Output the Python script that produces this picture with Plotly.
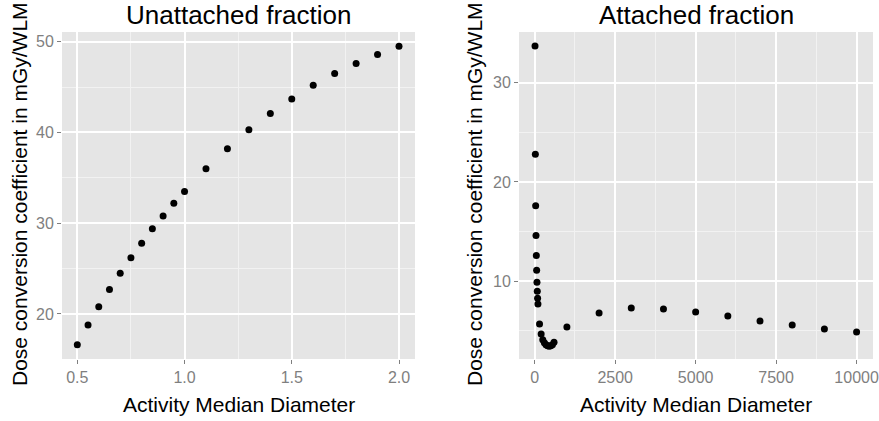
import plotly.graph_objects as go
from plotly.subplots import make_subplots

# ---- data ----
unatt_amd = [0.5, 0.55, 0.6, 0.65, 0.7, 0.75, 0.8, 0.85, 0.9, 0.95, 1.0,
             1.1, 1.2, 1.3, 1.4, 1.5, 1.6, 1.7, 1.8, 1.9, 2.0]
unatt_dcc = [16.6, 18.8, 20.8, 22.7, 24.5, 26.2, 27.8, 29.4, 30.8, 32.2, 33.5,
             36.0, 38.2, 40.3, 42.1, 43.7, 45.2, 46.5, 47.6, 48.6, 49.5]

att_amd = [10, 20, 30, 40, 50, 60, 70, 80, 90, 100,
           150, 200, 250, 300, 350, 400, 450, 500, 550, 600,
           1000, 2000, 3000, 4000, 5000, 6000, 7000, 8000, 9000, 10000]
att_dcc = [33.7, 22.8, 17.6, 14.6, 12.6, 11.1, 9.9, 9.0, 8.3, 7.7,
           5.7, 4.7, 4.1, 3.8, 3.6, 3.5, 3.45, 3.5, 3.6, 3.85,
           5.4, 6.8, 7.3, 7.2, 6.9, 6.5, 6.0, 5.6, 5.2, 4.9]

titles = ["Unattached fraction", "Attached fraction"]
x_title = "Activity Median Diameter"
y_title = "Dose conversion coefficient in mGy/WLM"

left_xticks = [0.5, 1.0, 1.5, 2.0]
left_xticklabels = ["0.5", "1.0", "1.5", "2.0"]
left_yticks = [20, 30, 40, 50]
right_xticks = [0, 2500, 5000, 7500, 10000]
right_xticklabels = ["0", "2500", "5000", "7500", "10000"]
right_yticks = [10, 20, 30]

FONT = "Liberation Sans, Arial, Helvetica, sans-serif"
BG = "#E5E5E5"
TICKC = "#7F7F7F"

fig = make_subplots(rows=1, cols=2)
fig.add_trace(go.Scatter(x=unatt_amd, y=unatt_dcc, mode="markers",
                         marker=dict(color="black", size=7), showlegend=False),
              row=1, col=1)
fig.add_trace(go.Scatter(x=att_amd, y=att_dcc, mode="markers",
                         marker=dict(color="black", size=7), showlegend=False),
              row=1, col=2)

W, H = 879, 421
ydom = [1 - 359 / H, 1 - 32 / H]

common = dict(showline=False, zeroline=False, ticks="outside", ticklen=4,
              tickwidth=1, tickcolor=TICKC, gridcolor="white", gridwidth=1.5,
              tickfont=dict(family=FONT, size=16, color=TICKC), showgrid=True,
              automargin=False)

fig.update_xaxes(domain=[62 / W, 415 / W], range=[0.4286, 2.0746],
                 tickvals=left_xticks, ticktext=left_xticklabels,
                 minor=dict(showgrid=True, gridcolor="#F2F2F2", gridwidth=1,
                            tickvals=[0.75, 1.25, 1.75], ticks=""),
                 row=1, col=1, **common)
fig.update_yaxes(domain=ydom, range=[15.04, 51.07], tickvals=left_yticks,
                 minor=dict(showgrid=True, gridcolor="#F2F2F2", gridwidth=1,
                            tickvals=[15, 25, 35, 45], ticks=""),
                 row=1, col=1, **common)
fig.update_xaxes(domain=[519 / W, 873 / W], range=[-488, 10510],
                 tickvals=right_xticks, ticktext=right_xticklabels,
                 minor=dict(showgrid=True, gridcolor="#F2F2F2", gridwidth=1,
                            tickvals=[1250, 3750, 6250, 8750], ticks=""),
                 row=1, col=2, **common)
fig.update_yaxes(domain=ydom, range=[2.17, 35.1], tickvals=right_yticks,
                 minor=dict(showgrid=True, gridcolor="#F2F2F2", gridwidth=1,
                            tickvals=[5, 15, 25, 35], ticks=""),
                 row=1, col=2, **common)

ann = []
# panel titles
for t, cx in zip(titles, [238.5, 696]):
    ann.append(dict(text=t, x=cx / W, y=1 - 15 / H, xref="paper", yref="paper",
                    showarrow=False, xanchor="center", yanchor="middle",
                    font=dict(family=FONT, size=26, color="black")))
# x titles
for cx in [238.5, 696]:
    ann.append(dict(text=x_title, x=cx / W, y=1 - 404 / H, xref="paper", yref="paper",
                    showarrow=False, xanchor="center", yanchor="middle",
                    font=dict(family=FONT, size=21, color="black")))
# y titles
for cx in [19, 474]:
    ann.append(dict(text=y_title, x=cx / W, y=1 - 194 / H, xref="paper", yref="paper",
                    showarrow=False, xanchor="center", yanchor="middle", textangle=-90,
                    font=dict(family=FONT, size=21, color="black")))

fig.update_layout(width=W, height=H, margin=dict(l=0, r=0, t=0, b=0),
                  paper_bgcolor="white", plot_bgcolor=BG, annotations=ann,
                  font=dict(family=FONT))

fig.write_html("out.html")
